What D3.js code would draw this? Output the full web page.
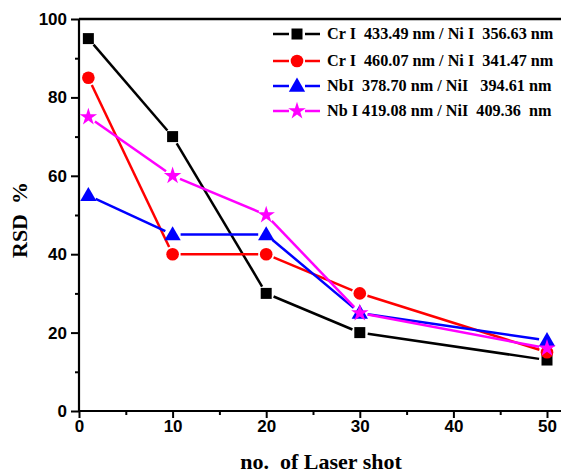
<!DOCTYPE html>
<html>
<head>
<meta charset="utf-8">
<script src="https://cdn.jsdelivr.net/npm/d3@7/dist/d3.min.js"></script>
<style>
  html, body { margin: 0; padding: 0; background: #fff; }
  svg { display: block; }
  text { white-space: pre; }
</style>
</head>
<body>
<svg id="chart" width="561" height="475"></svg>
<script>
// Laser shot counts on the x axis
const shots = [1, 10, 20, 30, 50];

// RSD (%) for each line-intensity ratio
const crA = [95, 70, 30, 20, 13];
const crB = [85, 40, 40, 30, 15];
const nbA = [55, 45, 45, 25, 18];
const nbB = [75, 60, 50, 25, 16];

const seriesNames = [
  "Cr I  433.49 nm / Ni I  356.63 nm",
  "Cr I  460.07 nm / Ni I  341.47 nm",
  "NbI  378.70 nm / NiI   394.61 nm",
  "Nb I 419.08 nm / NiI  409.36  nm"
];

const xTicks = [0, 10, 20, 30, 40, 50];
const yTicks = [0, 20, 40, 60, 80, 100];

const series = [
  { name: seriesNames[0], values: crA, color: "#000000", shape: "square" },
  { name: seriesNames[1], values: crB, color: "#ff0000", shape: "circle" },
  { name: seriesNames[2], values: nbA, color: "#0000ff", shape: "triangle" },
  { name: seriesNames[3], values: nbB, color: "#ff00ff", shape: "star" }
];

const svg = d3.select("#chart");
const x = d3.scaleLinear().domain([0, 50]).range([79, 547]);
const y = d3.scaleLinear().domain([0, 100]).range([411, 19]);

const symbolFor = {
  square: d3.symbol().type(d3.symbolSquare).size(121),
  circle: d3.symbol().type(d3.symbolCircle).size(125),
  triangle: d3.symbol().type(d3.symbolTriangle).size(115),
  star: d3.symbol().type(d3.symbolStar).size(95)
};

// frame top edge and axes
svg.append("line")
  .attr("x1", x(0)).attr("x2", 561)
  .attr("y1", y(100)).attr("y2", y(100))
  .attr("stroke", "#000").attr("stroke-width", 2.5);

const tickFont = "'Liberation Sans', Arial, sans-serif";

const xAxis = svg.append("g")
  .attr("transform", `translate(0,${y(0)})`)
  .call(d3.axisBottom(x).tickValues(xTicks).tickSize(7).tickPadding(2).tickFormat(d3.format("d")));
xAxis.select(".domain").attr("d", `M${x(0)},0H561`).attr("stroke-width", 2.2);
xAxis.selectAll(".tick line").attr("stroke-width", 2);
xAxis.selectAll(".tick text")
  .attr("font-family", tickFont).attr("font-weight", "bold").attr("font-size", 17).attr("fill", "#000");

const xMinor = svg.append("g")
  .attr("transform", `translate(0,${y(0)})`)
  .call(d3.axisBottom(x).tickValues([5, 15, 25, 35, 45]).tickSize(4).tickFormat(""));
xMinor.select(".domain").remove();
xMinor.selectAll(".tick line").attr("stroke-width", 2);

const yAxis = svg.append("g")
  .attr("transform", `translate(${x(0)},0)`)
  .call(d3.axisLeft(y).tickValues(yTicks).tickSize(8).tickPadding(4).tickFormat(d3.format("d")));
yAxis.select(".domain").attr("d", `M0,${y(0)}V${y(100)}`).attr("stroke-width", 2.2);
yAxis.selectAll(".tick line").attr("stroke-width", 2);
yAxis.selectAll(".tick text")
  .attr("font-family", tickFont).attr("font-weight", "bold").attr("font-size", 17).attr("fill", "#000");

const yMinor = svg.append("g")
  .attr("transform", `translate(${x(0)},0)`)
  .call(d3.axisLeft(y).tickValues([10, 30, 50, 70, 90]).tickSize(4).tickFormat(""));
yMinor.select(".domain").remove();
yMinor.selectAll(".tick line").attr("stroke-width", 2);

// axis titles
const titleFont = "'Liberation Serif', 'Times New Roman', serif";
svg.append("text")
  .attr("x", 321).attr("y", 469)
  .attr("text-anchor", "middle")
  .attr("font-family", titleFont).attr("font-weight", "bold").attr("font-size", 22)
  .text("no.  of Laser shot");
const yTitle = svg.append("text")
  .attr("transform", "translate(27,220) rotate(-90)")
  .attr("text-anchor", "middle")
  .attr("font-family", titleFont).attr("font-weight", "bold").attr("font-size", 22);
yTitle.append("tspan").text("RSD");
yTitle.append("tspan").attr("dx", 10).text("%");

// connecting segments stop short of each marker
const gap = 8;
series.forEach(s => {
  const pts = shots.map((d, i) => [x(d), y(s.values[i])]);
  const g = svg.append("g");
  for (let i = 0; i < pts.length - 1; i++) {
    const [x1, y1] = pts[i], [x2, y2] = pts[i + 1];
    const len = Math.hypot(x2 - x1, y2 - y1);
    if (len <= 2 * gap) continue;
    const ux = (x2 - x1) / len, uy = (y2 - y1) / len;
    g.append("line")
      .attr("x1", x1 + ux * gap).attr("y1", y1 + uy * gap)
      .attr("x2", x2 - ux * gap).attr("y2", y2 - uy * gap)
      .attr("stroke", s.color).attr("stroke-width", 2.5);
  }
});

series.forEach(s => {
  svg.append("g").selectAll("path")
    .data(shots.map((d, i) => [d, s.values[i]]))
    .join("path")
    .attr("d", symbolFor[s.shape])
    .attr("transform", d => `translate(${x(d[0])},${y(d[1]) + (s.shape === "triangle" ? 1 : 0)})`)
    .attr("fill", s.color);
});

// legend
const legendFont = "'Liberation Serif', 'Times New Roman', serif";
const legendY = [34, 61, 86, 111];
series.forEach((s, i) => {
  const g = svg.append("g").attr("transform", `translate(0,${legendY[i]})`);
  g.append("line").attr("x1", 273).attr("x2", 289).attr("stroke", s.color).attr("stroke-width", 2.5);
  g.append("line").attr("x1", 305).attr("x2", 320).attr("stroke", s.color).attr("stroke-width", 2.5);
  g.append("path").attr("d", symbolFor[s.shape]).attr("transform", `translate(297,${s.shape === "triangle" ? 1 : 0})`).attr("fill", s.color);
  g.append("text")
    .attr("x", 327).attr("y", 5)
    .attr("font-family", legendFont).attr("font-weight", "bold").attr("font-size", 16.2)
    .text(s.name);
});
</script>
</body>
</html>
